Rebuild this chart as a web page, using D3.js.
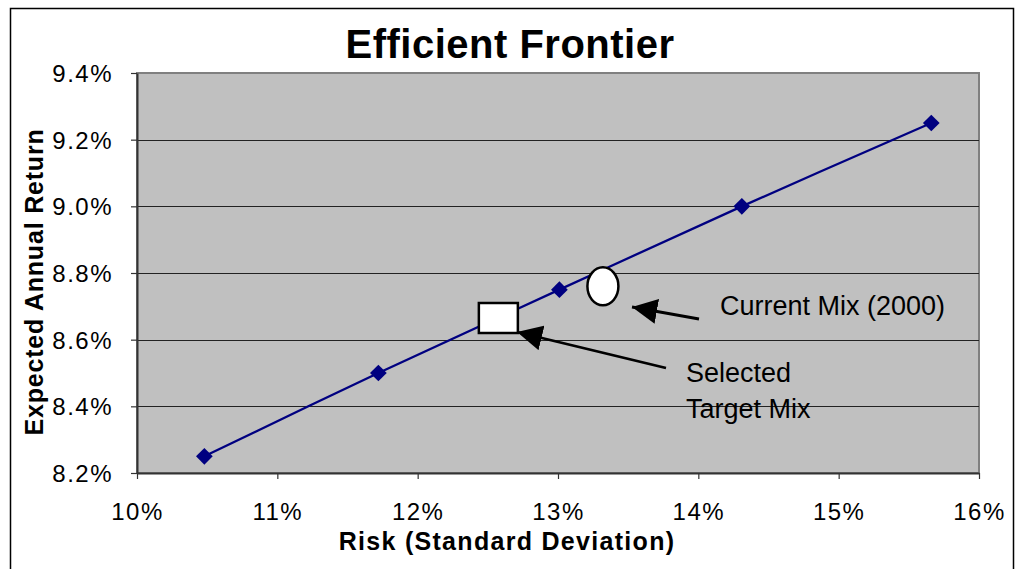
<!DOCTYPE html>
<html>
<head>
<meta charset="utf-8">
<script src="https://cdn.jsdelivr.net/npm/d3@7"></script>
<style>
  body { margin: 0; background: #fff; }
  text { font-family: Arial, "Liberation Sans", sans-serif; }
</style>
</head>
<body>
<svg id="chart" width="1017" height="569"></svg>
<script>
// Frontier data (risk %, return %)
const riskValues = [10.48, 11.72, 13.01, 14.31, 15.66];
const returnValues = [8.25, 8.50, 8.75, 9.00, 9.25];
const xTicks = [10, 11, 12, 13, 14, 15, 16];
const yTicks = [8.2, 8.4, 8.6, 8.8, 9.0, 9.2, 9.4];
// Annotated portfolios
const currentMix = { risk: 13.32, ret: 8.76, label: ["Current Mix (2000)"] };
const targetMix = { risk: 12.575, ret: 8.665, label: ["Selected", "Target Mix"] };

const svg = d3.select("#chart");
const margin = { left: 137, right: 38, top: 73, bottom: 96 };
const width = +svg.attr("width");
const height = +svg.attr("height");

const x = d3.scaleLinear().domain([10, 16]).range([margin.left, width - margin.right]);
const y = d3.scaleLinear().domain([8.2, 9.4]).range([height - margin.bottom, margin.top]);

// outer chart border (bottom edge runs off the picture)
svg.append("path")
    .attr("d", "M10.5,575 V8.5 H1013.5 V575")
    .attr("fill", "none")
    .attr("stroke", "#000")
    .attr("stroke-width", 1.5);

// plot area
svg.append("rect")
    .attr("x", x(10)).attr("y", y(9.4))
    .attr("width", x(16) - x(10)).attr("height", y(8.2) - y(9.4))
    .attr("fill", "#c0c0c0")
    .attr("stroke", "#808080")
    .attr("stroke-width", 2);

// gridlines
svg.append("g").selectAll("line")
    .data(yTicks.slice(1, -1))
    .enter().append("line")
    .attr("x1", x(10)).attr("x2", x(16))
    .attr("y1", d => Math.round(y(d)) + 0.5).attr("y2", d => Math.round(y(d)) + 0.5)
    .attr("stroke", "#222")
    .attr("stroke-width", 1);

// axes
const xAxis = svg.append("g")
    .attr("transform", "translate(0," + y(8.2) + ")")
    .call(d3.axisBottom(x).tickValues(xTicks).tickSize(6).tickSizeOuter(0)
        .tickFormat(d => d + "%"));
const yAxis = svg.append("g")
    .attr("transform", "translate(" + x(10) + ",0)")
    .call(d3.axisLeft(y).tickValues(yTicks).tickSize(6).tickSizeOuter(0)
        .tickFormat(d => d.toFixed(1) + "%"));

[xAxis, yAxis].forEach(a => {
    a.select(".domain").attr("stroke", "#333").attr("stroke-width", 2);
    a.selectAll(".tick line").attr("stroke", "#333").attr("stroke-width", 1.2);
    a.selectAll(".tick text")
        .attr("fill", "#000")
        .attr("font-size", "24px")
        .style("letter-spacing", "1.5px");
});
xAxis.selectAll(".tick text").attr("dy", 0).attr("y", 47);
yAxis.selectAll(".tick text").attr("x", -24).attr("dy", "0.36em");

// frontier line
const pts = riskValues.map((r, i) => [r, returnValues[i]]);
svg.append("path")
    .datum(pts)
    .attr("d", d3.line().x(d => x(d[0])).y(d => y(d[1])).curve(d3.curveCatmullRom.alpha(0.5)))
    .attr("fill", "none")
    .attr("stroke", "#000080")
    .attr("stroke-width", 2.3);

// diamond markers
svg.append("g").selectAll("path")
    .data(pts)
    .enter().append("path")
    .attr("d", d3.symbol().type(d3.symbolSquare).size(140))
    .attr("transform", d => "translate(" + x(d[0]) + "," + y(d[1]) + ") rotate(45)")
    .attr("fill", "#000080");

// target mix square
svg.append("rect")
    .attr("x", x(targetMix.risk) - 19.5).attr("y", y(targetMix.ret) - 15)
    .attr("width", 39).attr("height", 30)
    .attr("fill", "#fff").attr("stroke", "#000").attr("stroke-width", 2.5);

// current mix ellipse
svg.append("ellipse")
    .attr("cx", x(currentMix.risk)).attr("cy", y(currentMix.ret))
    .attr("rx", 15.5).attr("ry", 19)
    .attr("fill", "#fff").attr("stroke", "#000").attr("stroke-width", 2.5);

// arrows
svg.append("defs").append("marker")
    .attr("id", "head")
    .attr("viewBox", "0 0 10 10")
    .attr("refX", 10).attr("refY", 5)
    .attr("markerWidth", 9).attr("markerHeight", 9)
    .attr("markerUnits", "strokeWidth")
    .attr("orient", "auto")
    .append("path")
    .attr("d", "M0,0 L10,5 L0,10 Z")
    .attr("fill", "#000");

const arrows = [
    { x1: 699, y1: 319, x2: 632, y2: 307 },
    { x1: 666, y1: 368, x2: 517, y2: 332 }
];
svg.append("g").selectAll("line")
    .data(arrows)
    .enter().append("line")
    .attr("x1", d => d.x1).attr("y1", d => d.y1)
    .attr("x2", d => d.x2).attr("y2", d => d.y2)
    .attr("stroke", "#000").attr("stroke-width", 2.8)
    .attr("marker-end", "url(#head)");

// annotation labels
svg.append("text")
    .attr("x", 720).attr("y", 315)
    .attr("font-size", "27px")
    .text(currentMix.label[0]);
svg.append("g").selectAll("text")
    .data(targetMix.label)
    .enter().append("text")
    .attr("x", 686).attr("y", (d, i) => 382 + i * 36)
    .attr("font-size", "27px")
    .text(d => d);

// titles
svg.append("text")
    .attr("x", 510).attr("y", 58)
    .attr("text-anchor", "middle")
    .attr("font-size", "40px").attr("font-weight", "bold")
    .style("letter-spacing", "0.5px")
    .text("Efficient Frontier");

svg.append("text")
    .attr("x", 507).attr("y", 550)
    .attr("text-anchor", "middle")
    .attr("font-size", "25px").attr("font-weight", "bold")
    .style("letter-spacing", "1.3px")
    .text("Risk (Standard Deviation)");

svg.append("text")
    .attr("transform", "translate(43,282) rotate(-90)")
    .attr("text-anchor", "middle")
    .attr("font-size", "25px").attr("font-weight", "bold")
    .style("letter-spacing", "0.8px")
    .text("Expected Annual Return");
</script>
</body>
</html>
